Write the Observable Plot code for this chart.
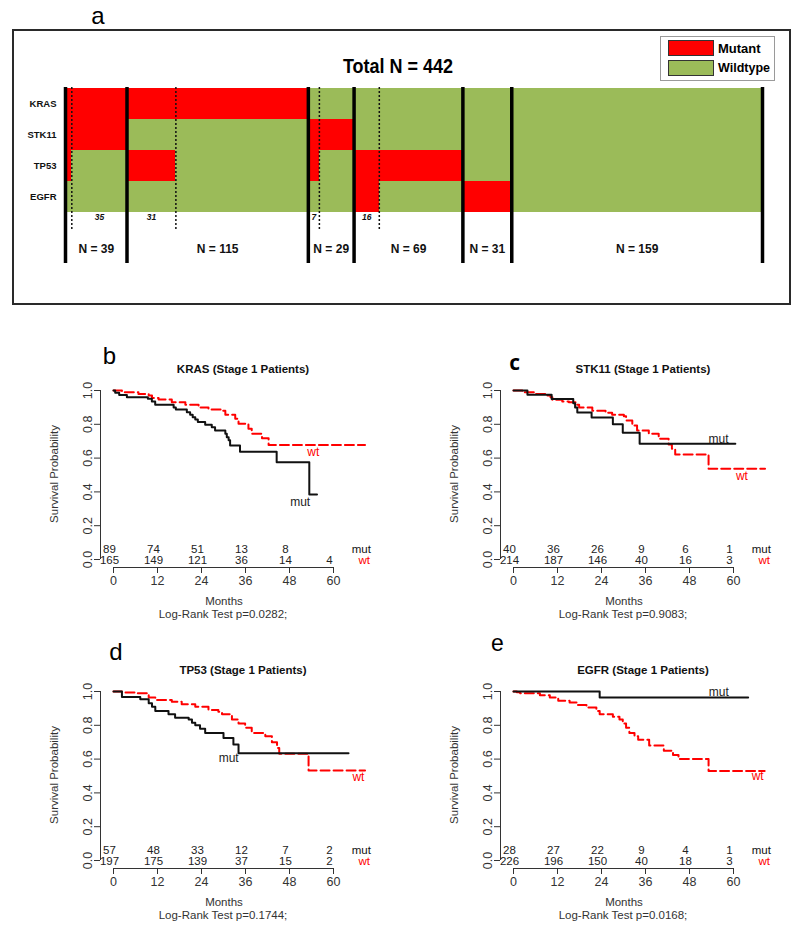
<!DOCTYPE html>
<html><head><meta charset="utf-8">
<script src="https://cdn.jsdelivr.net/npm/d3@7"></script>
<script src="https://cdn.jsdelivr.net/npm/@observablehq/plot@0.6"></script>
<style>
html,body{margin:0;padding:0;background:#fff;}
#root{position:relative;width:800px;height:935px;overflow:hidden;font-family:"Liberation Sans",Arial,sans-serif;}
.abs{position:absolute;white-space:nowrap;line-height:1;transform:translate(-50%,-50%);}
.plot{position:absolute;}
.narrow{font-family:"Liberation Sans",Arial,sans-serif;font-weight:bold;}
</style></head><body><div id="root"></div>
<script>
// ---------- Panel a data ----------
const genes = ["KRAS", "STK11", "TP53", "EGFR"];
const segCounts   = [4, 35, 31, 84, 7, 22, 16, 53, 31, 159];
const segKRAS     = [1, 1, 1, 1, 0, 0, 0, 0, 0, 0];
const segSTK11    = [1, 1, 0, 0, 1, 1, 0, 0, 0, 0];
const segTP53     = [1, 0, 1, 0, 1, 0, 1, 1, 0, 0];
const segEGFR     = [0, 0, 0, 0, 0, 0, 1, 0, 1, 0];
const groupN      = [39, 115, 29, 69, 31, 159];
const subSegIndex = [1, 2, 4, 6];          // segments that carry a count label
const dottedAfter = [0, 2, 4, 6];          // dotted line after these segments
const totalN = 442;

// ---------- KM data ([months, survival]) ----------
const riskMonths = [0, 12, 24, 36, 48, 60];
const monthTicks = [0, 12, 24, 36, 48, 60];
const survTicks = [0, 0.2, 0.4, 0.6, 0.8, 1.0];

const bMut = [[0,1],[0.46,0.986],[1.55,0.974],[3.65,0.96],[9.37,0.951],[10.46,0.935],[11.37,0.915],[16.4,0.90],[17.0,0.888],[20.0,0.872],[20.9,0.856],[21.6,0.842],[22.3,0.828],[23.0,0.813],[25.0,0.797],[26.8,0.783],[27.7,0.764],[30.5,0.744],[30.9,0.724],[31.4,0.705],[31.8,0.675],[34.5,0.638],[44.5,0.575],[53.4,0.385],[55.5,0.385]];
const bWt  = [[0,1],[2.3,0.99],[6.8,0.98],[9.6,0.97],[10.5,0.955],[12.3,0.947],[15.9,0.93],[19.6,0.915],[23.2,0.90],[25.9,0.888],[29.6,0.88],[30.5,0.856],[33.2,0.833],[34.1,0.803],[36.8,0.773],[37.7,0.744],[40.5,0.718],[42.3,0.677],[68.6,0.677]];
const bRiskMut = [89, 74, 51, 13, 8, null];
const bRiskWt  = [165, 149, 121, 36, 14, 4];

const cMut = [[0,1],[3.8,0.975],[10.4,0.95],[16.3,0.925],[16.8,0.9],[17.4,0.87],[21.3,0.84],[27.1,0.8],[29.8,0.75],[34.4,0.685],[60.5,0.685]];
const cWt  = [[0,1],[2.4,0.99],[6.1,0.98],[8.8,0.97],[10.1,0.96],[10.6,0.945],[13.3,0.935],[15.1,0.93],[16.9,0.915],[17.9,0.90],[21.5,0.88],[25.1,0.868],[26.9,0.856],[30.1,0.848],[30.7,0.823],[32.4,0.793],[33.7,0.764],[36.9,0.744],[39.6,0.714],[42.3,0.68],[43.2,0.655],[44.1,0.622],[53.2,0.537],[68.6,0.537]];
const cRiskMut = [40, 36, 26, 9, 6, 1];
const cRiskWt  = [214, 187, 146, 40, 16, 3];

const dMut = [[0,1],[2.3,0.967],[7.3,0.954],[9.6,0.93],[10.5,0.91],[11.4,0.885],[15.0,0.865],[16.8,0.845],[20.5,0.835],[21.4,0.815],[22.3,0.80],[23.6,0.78],[25.0,0.755],[30.0,0.725],[32.7,0.686],[34.1,0.635],[64.1,0.635]];
const dWt  = [[0,1],[2.3,0.994],[5.9,0.99],[9.6,0.965],[11.4,0.95],[15.9,0.94],[18.6,0.925],[22.3,0.91],[25.9,0.89],[28.6,0.88],[29.6,0.865],[32.3,0.835],[34.1,0.81],[35.9,0.785],[37.7,0.755],[41.4,0.735],[43.2,0.70],[44.6,0.666],[45.2,0.632],[53.2,0.533],[68.6,0.533]];
const dRiskMut = [57, 48, 33, 12, 7, 2];
const dRiskWt  = [197, 175, 139, 37, 15, 2];

const eMut = [[0,1],[23.5,0.964],[64.0,0.964]];
const eWt  = [[0,1],[0.9,0.995],[1.8,0.99],[7.2,0.978],[9.9,0.965],[12.2,0.945],[15.3,0.935],[17.2,0.92],[19.9,0.905],[22.6,0.885],[23.5,0.865],[27.1,0.85],[28.9,0.835],[29.8,0.81],[30.7,0.785],[31.6,0.755],[33.0,0.735],[34.0,0.715],[37.0,0.68],[41.0,0.65],[43.5,0.625],[45.0,0.60],[53.2,0.53],[68.5,0.53]];
const eRiskMut = [28, 27, 22, 9, 4, 1];
const eRiskWt  = [226, 196, 150, 40, 18, 3];

const genesKM = ["KRAS", "STK11", "TP53", "EGFR"];
const pValues = ["0.0282", "0.9083", "0.1744", "0.0168"];
// curve-end label anchors in data units [months, survival]
const mutLabelAt = [[50.9, 0.338], [55.9, 0.715], [31.4, 0.603], [56.0, 0.994]];
const wtLabelAt  = [[54.5, 0.634], [62.3, 0.492], [66.8, 0.493], [66.6, 0.497]];

const RED = "#ff0000", GREEN = "#9bbb59";
const root = document.getElementById("root");

function txt(str, x, y, css, extraTransform) {
  const d = document.createElement("div");
  d.className = "abs";
  d.textContent = str;
  d.style.left = x + "px";
  d.style.top = y + "px";
  if (extraTransform) d.style.transform = "translate(-50%,-50%) " + extraTransform;
  Object.assign(d.style, css || {});
  root.appendChild(d);
  return d;
}
function place(node, left, top) {
  node.classList.add("plot");
  node.style.left = left + "px";
  node.style.top = top + "px";
  root.appendChild(node);
}

// ---------- Panel a ----------
const box = document.createElement("div");
Object.assign(box.style, {position:"absolute", left:"12px", top:"29px", width:"779px", height:"276px", border:"2px solid #2a2a2a", boxSizing:"border-box"});
root.appendChild(box);
txt("a", 98, 16, {fontSize:"24px", fontFamily:'"Liberation Sans",Arial,sans-serif'});
txt("Total N = 442", 398, 66, {fontSize:"18px", transform:"translate(-50%,-50%) scaleY(1.1)"}).classList.add("narrow");

// legend
const leg = document.createElement("div");
Object.assign(leg.style, {position:"absolute", left:"660px", top:"36px", width:"115px", height:"45px", border:"1.5px solid #9a9a9a", boxSizing:"border-box", background:"#fff"});
root.appendChild(leg);
[["Mutant", RED, 40, 13], ["Wildtype", GREEN, 60, 12.5]].forEach(([lab, col, y, fs]) => {
  const sw = document.createElement("div");
  Object.assign(sw.style, {position:"absolute", left:"668px", top:y+"px", width:"46px", height:"16px", background:col, border:"1px solid #333", boxSizing:"border-box"});
  root.appendChild(sw);
  const t = document.createElement("div");
  t.className = "narrow";
  Object.assign(t.style, {position:"absolute", left:"718px", top:(y+8)+"px", transform:"translateY(-50%)", fontSize:fs+"px", lineHeight:"1", whiteSpace:"nowrap"});
  t.textContent = lab;
  root.appendChild(t);
});

const cum = [0];
segCounts.forEach(c => cum.push(cum[cum.length - 1] + c));
const mutRows = {KRAS: segKRAS, STK11: segSTK11, TP53: segTP53, EGFR: segEGFR};
const cells = [];
segCounts.forEach((c, i) => genes.forEach(g => cells.push({x1: cum[i], x2: cum[i + 1], gene: g, status: mutRows[g][i] ? "Mutant" : "Wildtype"})));
const groupBounds = [0];
groupN.forEach(n => groupBounds.push(groupBounds[groupBounds.length - 1] + n));
const groupLabels = groupN.map((n, i) => ({x: (groupBounds[i] + groupBounds[i + 1]) / 2, text: "N = " + n}));
const subLabels = subSegIndex.map(i => ({x: (cum[i] + cum[i + 1]) / 2, text: String(segCounts[i])}));
const dotted = dottedAfter.map(i => cum[i + 1]);

const figA = Plot.plot({
  width: 800, height: 320,
  marginLeft: 65, marginRight: 38, marginTop: 87, marginBottom: 57,
  x: {domain: [0, totalN], range: [65, 762], axis: null},
  y: {type: "band", domain: genes, range: [87, 212], padding: 0},
  color: {domain: ["Mutant", "Wildtype"], range: [RED, GREEN]},
  style: {background: "none", overflow: "visible", fontFamily: '"Liberation Sans",Arial,sans-serif'},
  marks: [
    Plot.barX(cells, {x1: "x1", x2: "x2", y: "gene", fill: "status", shapeRendering: "crispEdges"}),
    Plot.axisY({tickSize: 0, tickPadding: 9, label: null, fontSize: 9.5, fontWeight: "bold", fill: "#111"}),
    Plot.ruleX(dotted, {stroke: "#111", strokeWidth: 1.5, strokeDasharray: "2,2", insetBottom: 33}),
    Plot.ruleX(groupBounds, {stroke: "#000", strokeWidth: 3.5}),
    Plot.text(subLabels, {x: "x", text: "text", frameAnchor: "bottom", dy: -44, fontSize: 8.5, fontWeight: "bold", fontStyle: "italic", fill: "#111"}),
    Plot.text(groupLabels, {x: "x", text: "text", frameAnchor: "bottom", dy: -11, fontSize: 12, fontWeight: "bold", fill: "#111"})
  ]
});
place(figA, 0, 0);

// ---------- KM panels ----------
const panels = [
  {letter: "b", left: 0,   top: 330, mut: bMut, wt: bWt, rm: bRiskMut, rw: bRiskWt},
  {letter: "c", left: 400, top: 330, mut: cMut, wt: cWt, rm: cRiskMut, rw: cRiskWt},
  {letter: "d", left: 0,   top: 631, mut: dMut, wt: dWt, rm: dRiskMut, rw: dRiskWt},
  {letter: "e", left: 400, top: 631, mut: eMut, wt: eWt, rm: eRiskMut, rw: eRiskWt}
];
const letterPos = {b: [109.5, 355.5, {fontSize: "24px"}], c: [514.7, 362, {fontSize: "21px", fontWeight: "bold", fontFamily: '"Open Sans","Liberation Sans",sans-serif'}], d: [116, 652.3, {fontSize: "24px"}], e: [497.5, 642.8, {fontSize: "23px"}]};

panels.forEach((p, k) => {
  const riskM = p.rm.map((n, i) => ({t: riskMonths[i], n})).filter(d => d.n != null);
  const riskW = p.rw.map((n, i) => ({t: riskMonths[i], n})).filter(d => d.n != null);
  const fig = Plot.plot({
    width: 400, height: 300,
    marginTop: 40, marginRight: 20, marginBottom: 63, marginLeft: 100,
    x: {domain: [0, 60], range: [113, 333]},
    y: {domain: [0, 1], range: [229, 60]},
    style: {fontFamily: '"Liberation Sans", Arial, sans-serif', fontSize: "12px", color: "#333", background: "none", overflow: "visible"},
    marks: [
      Plot.axisX({ticks: monthTicks, tickSize: 6, tickPadding: 3, label: null, fontSize: 12.5}),
      Plot.ruleY([0], {x1: 0, x2: 60, dy: 8, stroke: "#333"}),
      Plot.axisY({ticks: survTicks, tickFormat: d3.format(".1f"), tickSize: 6, tickRotate: -90, label: null, fontSize: 12.5}),
      Plot.ruleX([0], {y1: 0, y2: 1, dx: -13, stroke: "#333"}),
      Plot.line(p.wt, {x: d => d[0], y: d => d[1], curve: "step-after", stroke: RED, strokeWidth: 2, strokeDasharray: "9,4"}),
      Plot.line(p.mut, {x: d => d[0], y: d => d[1], curve: "step-after", stroke: "#111", strokeWidth: 2}),
      Plot.text(riskM, {x: "t", y: 0, text: "n", dy: -10, dx: -4, fontSize: 11.5, fill: "#222"}),
      Plot.text(riskW, {x: "t", y: 0, text: "n", dx: -4, dy: 0.5, fontSize: 11.5, fill: "#222"}),
      Plot.text(["mut"], {x: 67.6, y: 0, text: d => d, dy: -10, fontSize: 11.5, fill: "#111"}),
      Plot.text(["wt"], {x: 68.4, y: 0, text: d => d, dy: 0.5, fontSize: 11.5, fill: RED}),
      Plot.text([mutLabelAt[k]], {x: d => d[0], y: d => d[1], text: () => "mut", fontSize: 12, fill: "#222"}),
      Plot.text([wtLabelAt[k]], {x: d => d[0], y: d => d[1], text: () => "wt", fontSize: 12, fill: RED})
    ]
  });
  place(fig, p.left, p.top);
  const lp = letterPos[p.letter];
  txt(p.letter, lp[0], lp[1], lp[2]);
  txt(genesKM[k] + " (Stage 1 Patients)", p.left + 243, p.top + 39.5, {fontSize: "11.5px", fontWeight: "bold", color: "#111"});
  txt("Months", p.left + 224, p.top + 271.5, {fontSize: "11.5px", color: "#333"});
  txt("Log-Rank Test p=" + pValues[k] + ";", p.left + 223, p.top + 285, {fontSize: "11.5px", color: "#333"});
  txt("Survival Probability", p.left + 55, p.top + 143.5, {fontSize: "11.5px", color: "#333"}, "rotate(-90deg)");
});
</script></body></html>
